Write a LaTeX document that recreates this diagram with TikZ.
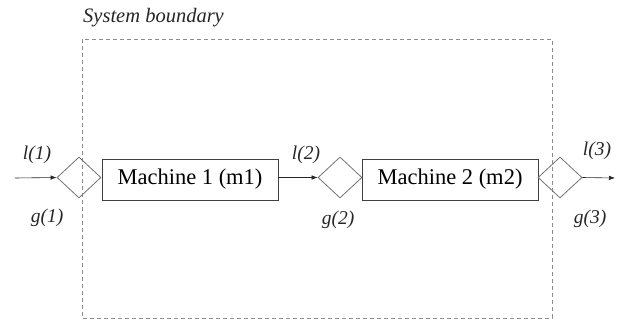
\documentclass[tikz,border=0pt]{standalone}
\usepackage{fontspec}
\setmainfont{Liberation Serif}
\usetikzlibrary{shapes.geometric,arrows.meta}
\begin{document}
\begin{tikzpicture}[x=1pt,y=-1pt,
  machinebox/.style={draw=black!75,line width=0.8pt,minimum width=176pt,minimum height=41pt,inner sep=0pt,font=\fontsize{22.5}{24}\selectfont},
  gate/.style={draw=black!55,line width=0.8pt,diamond,minimum width=44pt,minimum height=41pt,inner sep=0pt},
  lbl/.style={font=\fontsize{19.5}{21}\selectfont\itshape,text=black!85,inner sep=0pt},
  flow/.style={draw=black!85,line width=0.6pt,-{Latex[length=6pt,width=4.5pt]}},
  boundary/.style={draw=black!45,line width=0.8pt,dash pattern=on 4pt off 3pt}
]
\useasboundingbox (0,0) rectangle (619,321);
\fill[white] (0,0) rectangle (619,321);
\draw[boundary] (82,39) rectangle (552,318);
\node[lbl,anchor=west,font=\fontsize{20.5}{22}\selectfont\itshape] (sb) at (83,18) {System boundary};
\node[machinebox] (m1) at (190,179.5) {Machine 1 (m1)};
\node[machinebox] (m2) at (450,179.5) {Machine 2 (m2)};
\node[gate] (d1) at (79,177.5) {};
\node[gate] (d2) at (340,177.5) {};
\node[gate] (d3) at (560,177.5) {};
\coordinate (in) at (15,178);
\coordinate (out) at (615,178);
\draw[flow] (in) -- (d1.west);
\draw[flow] (m1.east |- d2.west) -- (d2.west);
\draw[flow] (d3.east) -- (out);
\node[lbl] (l1) at (37,155) {l(1)};
\node[lbl] (g1) at (47,218) {g(1)};
\node[lbl] (l2) at (306,155) {l(2)};
\node[lbl] (g2) at (338,220) {g(2)};
\node[lbl] (l3) at (597,151) {l(3)};
\node[lbl] (g3) at (590,219) {g(3)};
\end{tikzpicture}
\end{document}
